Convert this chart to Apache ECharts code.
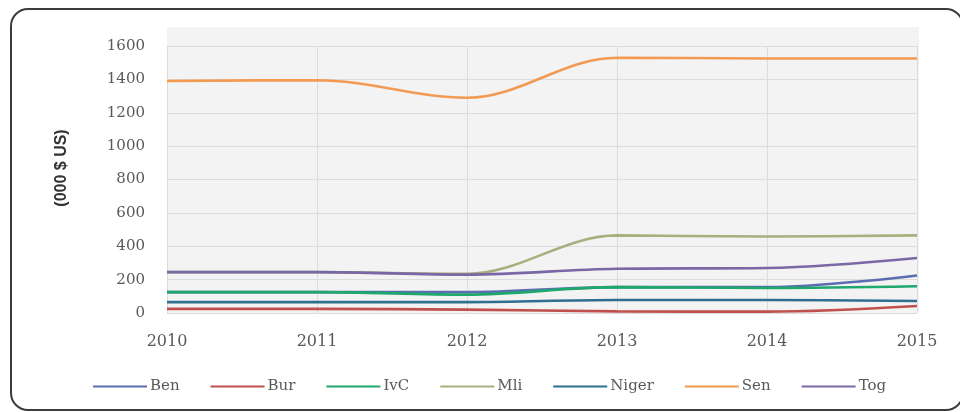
<!DOCTYPE html>
<html>
<head>
<meta charset="utf-8">
<script src="https://cdn.jsdelivr.net/npm/echarts@6/dist/echarts.min.js"></script>
<style>
  html, body { margin: 0; padding: 0; background: #ffffff; }
  #wrap { position: relative; width: 960px; height: 412px; overflow: hidden; }
  #frame { position: absolute; left: 10px; top: 8px; width: 950px; height: 399px;
           border: 2px solid #3c3c3c; border-radius: 18px; }
  #chart { position: absolute; left: 0; top: 0; width: 960px; height: 412px; }
</style>
</head>
<body>
<div id="wrap">
  <div id="frame"></div>
  <div id="chart"></div>
</div>
<script>
// Years on the category axis
const years = ['2010', '2011', '2012', '2013', '2014', '2015'];

// Values per country, in thousands of US dollars
const ben   = [125, 125, 125, 155, 155, 225];
const bur   = [25, 25, 20, 10, 8, 42];
const ivc   = [125, 125, 110, 155, 150, 160];
const mli   = [245, 245, 235, 465, 458, 465];
const niger = [65, 65, 65, 78, 78, 72];
const sen   = [1390, 1395, 1290, 1530, 1525, 1525];
const tog   = [245, 245, 230, 265, 270, 330];

const seriesNames = ['Ben', 'Bur', 'IvC', 'Mli', 'Niger', 'Sen', 'Tog'];
const seriesData  = [ben, bur, ivc, mli, niger, sen, tog];
const seriesColors = ['#5b6db0', '#c0504d', '#1ea86c', '#a9ae7e', '#2f6f8f', '#f39a52', '#7a68a6'];

const labelFont = 'DejaVu Serif';

const chart = echarts.init(document.getElementById('chart'), null, { renderer: 'canvas' });

chart.setOption({
  backgroundColor: 'transparent',
  animation: false,
  graphic: [{
    type: 'rect',
    z: -10,
    shape: { x: 167, y: 27, width: 752, height: 286 },
    style: { fill: '#f3f3f3' }
  }, {
    type: 'text',
    x: 62,
    y: 168,
    rotation: Math.PI / 2,
    style: {
      text: '(000 $ US)',
      fontFamily: 'Liberation Sans',
      fontWeight: 'bold',
      fontSize: 16,
      fill: '#333333',
      align: 'center',
      verticalAlign: 'middle'
    }
  }],
  grid: { left: 167, right: 43, top: 46, bottom: 99 },
  legend: {
    left: 88,
    top: 374,
    itemWidth: 54,
    itemHeight: 14,
    itemGap: 31,
    icon: 'path://M0,6 L54,6 L54,8 L0,8 Z',
    textStyle: { fontFamily: labelFont, fontSize: 15, color: '#595959', padding: [0, 0, 0, -2] },
    data: seriesNames
  },
  xAxis: {
    type: 'category',
    data: years,
    boundaryGap: false,
    axisLine: { show: false },
    axisTick: { show: false },
    axisLabel: { margin: 21, fontFamily: labelFont, fontSize: 16, color: '#595959' },
    splitLine: { show: true, lineStyle: { color: '#dcdcdc', width: 1 } }
  },
  yAxis: {
    type: 'value',
    min: 0,
    max: 1600,
    interval: 200,
    axisLine: { show: false },
    axisTick: { show: false },
    axisLabel: {
      margin: 22, fontFamily: labelFont, fontSize: 15, color: '#595959',
      formatter: v => String(v)
    },
    splitLine: { show: true, lineStyle: { color: '#dcdcdc', width: 1 } }
  },
  series: seriesNames.map((name, i) => ({
    name: name,
    type: 'line',
    data: seriesData[i],
    smooth: 0.35,
    showSymbol: false,
    symbol: 'none',
    color: seriesColors[i],
    lineStyle: { width: 2.6, color: seriesColors[i] },
    z: 2 + i
  }))
});
</script>
</body>
</html>
